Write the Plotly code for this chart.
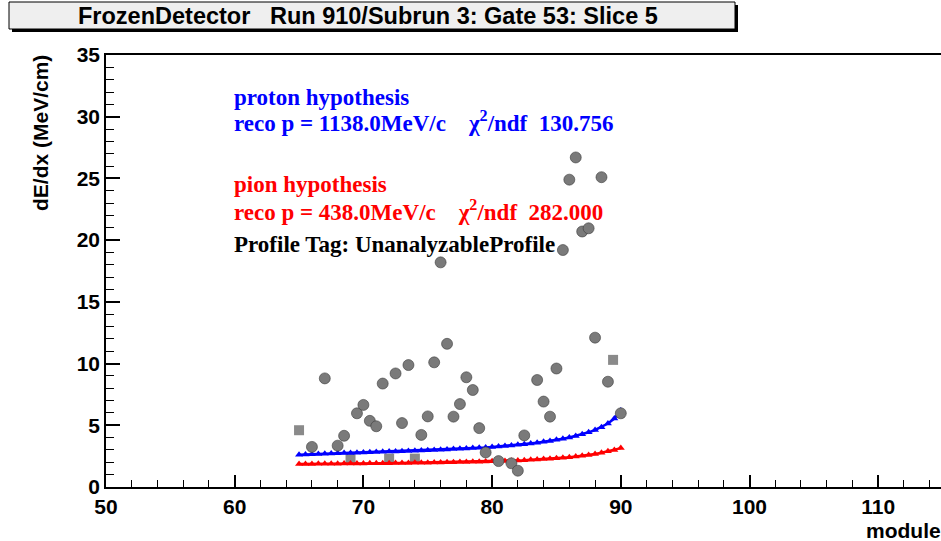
import plotly.graph_objects as go

# ---- data ----
meas_x = [66, 67, 68, 68.5, 69.5, 70, 70.5, 71, 71.5, 72.5, 73, 73.5, 74.5, 75, 75.5, 76, 76.5,
          77, 77.5, 78, 78.5, 79, 79.5, 80.5, 81.5, 82, 82.5, 83.5, 84, 84.5, 85, 85.5, 86,
          86.5, 87, 87.5, 88, 88.5, 89, 90]
meas_y = [3.25, 8.8, 3.35, 4.15, 5.97, 6.65, 5.36, 4.92, 8.38, 9.2, 5.18, 9.88, 4.22, 5.72, 10.1,
          18.2, 11.6, 5.7, 6.72, 8.89, 7.86, 4.77, 2.8, 2.1, 1.92, 1.32, 4.18, 8.67, 6.92, 5.7,
          9.6, 19.2, 24.9, 26.7, 20.7, 20.96, 12.1, 25.1, 8.53, 5.97]
sq_x = [65, 69, 72, 74, 89.4]
sq_y = [4.6, 2.3, 2.3, 2.3, 10.3]

fit_x = [65, 65.5, 66, 66.5, 67, 67.5, 68, 68.5, 69, 69.5, 70, 70.5, 71, 71.5, 72, 72.5, 73, 73.5,
         74, 74.5, 75, 75.5, 76, 76.5, 77, 77.5, 78, 78.5, 79, 79.5, 80, 80.5, 81, 81.5, 82, 82.5,
         83, 83.5, 84, 84.5, 85, 85.5, 86, 86.5, 87, 87.5, 88, 88.5, 89, 89.5, 90]
proton_y = [2.62, 2.64, 2.66, 2.68, 2.70, 2.71, 2.73, 2.75, 2.76, 2.78, 2.80, 2.82, 2.83, 2.85,
            2.87, 2.88, 2.90, 2.92, 2.94, 2.96, 2.98, 3.00, 3.02, 3.04, 3.07, 3.09, 3.12, 3.15,
            3.18, 3.21, 3.25, 3.29, 3.33, 3.37, 3.42, 3.47, 3.53, 3.59, 3.66, 3.73, 3.82, 3.91,
            4.01, 4.13, 4.27, 4.43, 4.62, 4.85, 5.14, 5.55, 6.20]
pion_y = [1.86, 1.87, 1.87, 1.88, 1.88, 1.89, 1.89, 1.90, 1.90, 1.91, 1.91, 1.92, 1.92, 1.93,
          1.93, 1.94, 1.95, 1.95, 1.96, 1.97, 1.97, 1.98, 1.99, 2.00, 2.01, 2.02, 2.03, 2.04,
          2.05, 2.06, 2.08, 2.09, 2.11, 2.13, 2.15, 2.17, 2.20, 2.23, 2.26, 2.29, 2.33, 2.37,
          2.42, 2.47, 2.53, 2.60, 2.68, 2.78, 2.89, 3.00, 3.15]

title_text = "FrozenDetector   Run 910/Subrun 3: Gate 53: Slice 5"
x_title = "module"
y_title = "dE/dx (MeV/cm)"

# ---- layout helpers (pixel -> paper) ----
L, T, B, W, H = 106, 55, 487, 941, 541
PW = W - L
PH = B - T
def px(x):
    return (x - L) / PW
def py(y):
    return (B - y) / PH

sans = "Liberation Sans, Arial, sans-serif"
serif = "Liberation Serif, Times New Roman, serif"

fig = go.Figure()
fig.add_trace(go.Scatter(x=sq_x, y=sq_y, mode="markers",
                         marker=dict(symbol="square", size=10, color="#8a8a8a"),
                         showlegend=False, hoverinfo="skip"))
fig.add_trace(go.Scatter(x=fit_x, y=proton_y, mode="lines+markers",
                         line=dict(color="#0000ff", width=2.5),
                         marker=dict(symbol="triangle-up", size=7, color="#0000ff"),
                         showlegend=False))
fig.add_trace(go.Scatter(x=fit_x, y=pion_y, mode="lines+markers",
                         line=dict(color="#ff0000", width=2.5),
                         marker=dict(symbol="triangle-up", size=7, color="#ff0000"),
                         showlegend=False))
fig.add_trace(go.Scatter(x=meas_x, y=meas_y, mode="markers",
                         marker=dict(symbol="circle", size=11, color="#7a7a7a",
                                     line=dict(color="#3a3a3a", width=0.6)),
                         showlegend=False))

tick_font = dict(family=sans, size=21, color="black", weight="bold")
fig.update_xaxes(range=[50, 50 + PW / 12.87], tick0=50, dtick=10, ticks="inside", ticklen=12,
                 tickwidth=1.5, tickcolor="black",
                 minor=dict(dtick=2, ticks="inside", ticklen=7, tickwidth=1.2, tickcolor="black"),
                 showline=True, linecolor="black", linewidth=1.5, mirror=True,
                 showgrid=False, zeroline=False, tickfont=tick_font)
fig.update_yaxes(range=[0, 35], tick0=0, dtick=5, ticks="inside", ticklen=14,
                 tickwidth=1.5, tickcolor="black",
                 minor=dict(dtick=1, ticks="inside", ticklen=8, tickwidth=1.2, tickcolor="black"),
                 showline=True, linecolor="black", linewidth=1.5, mirror=False,
                 showgrid=False, zeroline=False, tickfont=tick_font)

ann = []
def txt(s, xpix, ypix, color, size=23):
    ann.append(dict(text="<b>" + s + "</b>", xref="paper", yref="paper", x=px(xpix), y=py(ypix),
                    xanchor="left", yanchor="middle", showarrow=False,
                    font=dict(family=serif, size=size, color=color)))

txt("proton hypothesis", 232, 97, "#0000ff")
txt("reco p = 1138.0MeV/c &nbsp;&nbsp; χ<sup>2</sup>/ndf &nbsp;130.756", 232, 122, "#0000ff")
txt("pion hypothesis", 232, 184, "#ff0000")
txt("reco p = 438.0MeV/c &nbsp;&nbsp; χ<sup>2</sup>/ndf &nbsp;282.000", 232, 210, "#ff0000")
txt("Profile Tag: UnanalyzableProfile", 232, 245, "black")

# axis titles
ann.append(dict(text="<b>" + y_title + "</b>", xref="paper", yref="paper", x=px(40), y=py(53),
                xanchor="center", yanchor="top", textangle=-90, showarrow=False,
                font=dict(family=sans, size=21, color="black")))
ann.append(dict(text="<b>" + x_title + "</b>", xref="paper", yref="paper", x=px(943), y=py(530),
                xanchor="right", yanchor="middle", showarrow=False,
                font=dict(family=sans, size=21, color="black")))
# title
ann.append(dict(text="<b>" + title_text + "</b>", xref="paper", yref="paper", x=px(368), y=py(16),
                xanchor="center", yanchor="middle", showarrow=False,
                font=dict(family=sans, size=23.5, color="black")))

shapes = [
    dict(type="rect", xref="paper", yref="paper", x0=px(12), x1=px(738), y0=py(5), y1=py(32),
         fillcolor="black", line=dict(width=0), layer="above"),
    dict(type="rect", xref="paper", yref="paper", x0=px(9), x1=px(735), y0=py(2), y1=py(29),
         fillcolor="#efefef", line=dict(color="black", width=1), layer="above"),
]

fig.update_layout(width=W, height=H, margin=dict(l=L, r=0, t=T, b=H - B),
                  plot_bgcolor="white", paper_bgcolor="white",
                  annotations=ann, shapes=shapes, showlegend=False)
fig.write_html("out.html")
